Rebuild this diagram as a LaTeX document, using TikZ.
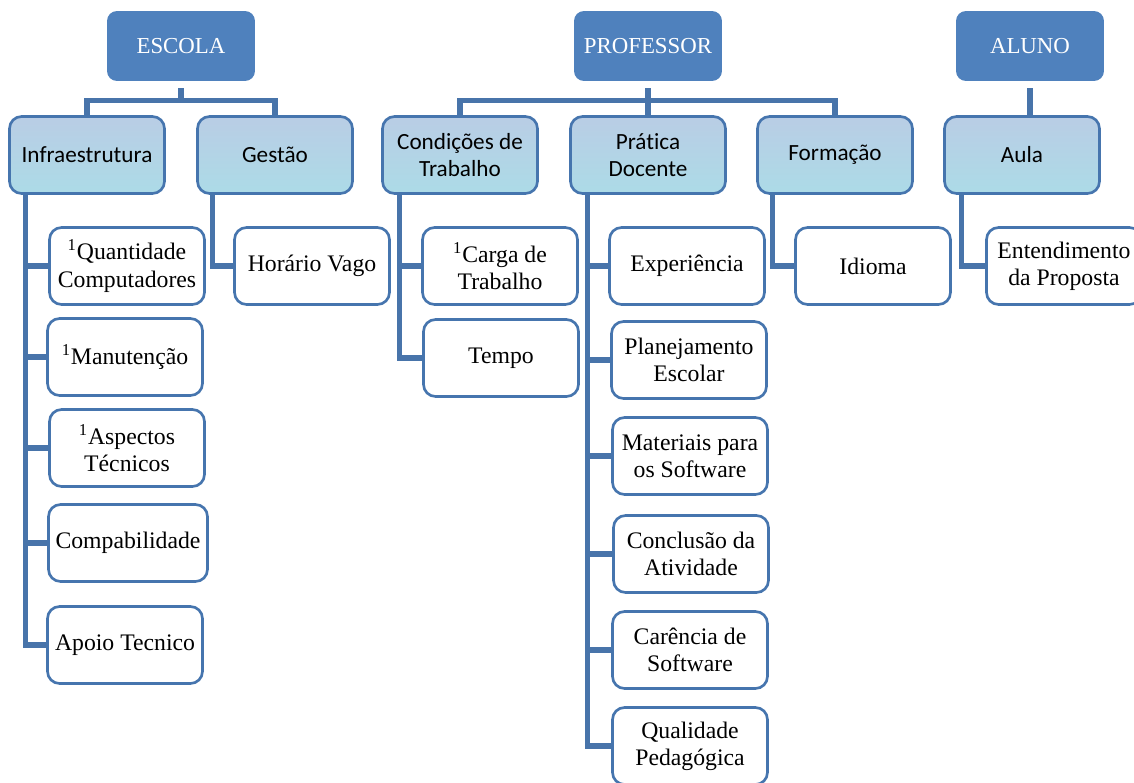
\documentclass[tikz,border=0pt]{standalone}
\usepackage{fontspec}
\setmainfont{Liberation Serif}
\newfontfamily\catfont[Ligatures=NoCommon]{Carlito}
\definecolor{topblue}{RGB}{79,129,189}
\definecolor{linkblue}{RGB}{72,116,170}
\definecolor{edgeblue}{RGB}{70,117,174}
\definecolor{cattop}{RGB}{185,205,229}
\definecolor{catbot}{RGB}{172,219,231}
\tikzset{
  root/.style={fill=topblue, rounded corners=0.2cm, minimum width=2.96cm,
    minimum height=1.4cm, text=white, font=\fontsize{13}{15}\selectfont},
  cat/.style={draw=edgeblue, line width=1.5pt, rounded corners=0.24cm,
    top color=cattop, bottom color=catbot, minimum width=3.1cm,
    minimum height=1.54cm, align=center, inner sep=1pt,
    font=\catfont\fontsize{13.2}{15.5}\selectfont},
  leaf/.style={draw=edgeblue, line width=1.5pt, fill=white,
    rounded corners=0.24cm, minimum width=3.1cm, minimum height=1.54cm,
    align=center, inner sep=1pt, font=\fontsize{13.5}{15.5}\selectfont},
  link/.style={draw=linkblue, line width=3pt},
}
\begin{document}
\begin{tikzpicture}[x=0.02cm,y=-0.02cm]
  \useasboundingbox (0,0) rectangle (1134,782);
  % top level
  \node[root] (escola) at (181,46) {ESCOLA};
  \node[root] (professor) at (648,46) {PROFESSOR};
  \node[root] (aluno) at (1030,46) {ALUNO};
  % categories
  \node[cat] (infra) at (87,155) {Infraestrutura};
  \node[cat] (gestao) at (275,155) {Gestão};
  \node[cat] (condicoes) at (460,155) {Condições de\\Trabalho};
  \node[cat] (pratica) at (648,155) {Prática\\Docente};
  \node[cat] (formacao) at (835,155) {Formação};
  \node[cat] (aula) at (1022,155) {Aula};
  % leaves
  \node[leaf] (qtd) at (127,266) {\textsuperscript{1}Quantidade\\Computadores};
  \node[leaf] (manut) at (125,357) {\textsuperscript{1}Manutenção};
  \node[leaf] (aspectos) at (127,448) {\textsuperscript{1}Aspectos\\Técnicos};
  \node[leaf, minimum width=3.18cm] (compab) at (128,543) {Compabilidade};
  \node[leaf] (apoio) at (125,645) {Apoio Tecnico};
  \node[leaf] (horario) at (312,266) {Horário Vago};
  \node[leaf] (carga) at (500,266) {\textsuperscript{1}Carga de\\Trabalho};
  \node[leaf] (tempo) at (501,358) {Tempo};
  \node[leaf] (experiencia) at (687,266) {Experiência};
  \node[leaf] (planej) at (689,360) {Planejamento\\Escolar};
  \node[leaf] (materiais) at (690,456) {Materiais para\\os Software};
  \node[leaf] (conclusao) at (691,554) {Conclusão da\\Atividade};
  \node[leaf] (carencia) at (690,650) {Carência de\\Software};
  \node[leaf] (qualidade) at (690,746) {Qualidade\\Pedagógica};
  \node[leaf] (idioma) at (873,266) {Idioma};
  \node[leaf] (entend) at (1064,266) {Entendimento\\da Proposta};
  % top links
  \draw[link] ([yshift=-0.14cm]escola.south) -- ++(0,12) -| (infra.north);
  \draw[link] ([yshift=-0.14cm]escola.south) -- ++(0,12) -| (gestao.north);
  \draw[link] ([yshift=-0.14cm]professor.south) -- ++(0,12) -| (condicoes.north);
  \draw[link] ([yshift=-0.14cm]professor.south) -- (pratica.north);
  \draw[link] ([yshift=-0.14cm]professor.south) -- ++(0,12) -| (formacao.north);
  \draw[link] ([yshift=-0.14cm]aluno.south) -- (aluno.south |- aula.north);
  % trunks
  \foreach \leafname in {qtd,manut,aspectos,compab,apoio}
    \draw[link] ([xshift=0.34cm]infra.south west) |- (\leafname.west);
  \draw[link] ([xshift=0.32cm]gestao.south west) |- (horario.west);
  \foreach \leafname in {carga,tempo}
    \draw[link] ([xshift=0.36cm]condicoes.south west) |- (\leafname.west);
  \foreach \leafname in {experiencia,planej,materiais,conclusao,carencia,qualidade}
    \draw[link] ([xshift=0.36cm]pratica.south west) |- (\leafname.west);
  \draw[link] ([xshift=0.32cm]formacao.south west) |- (idioma.west);
  \draw[link] ([xshift=0.36cm]aula.south west) |- (entend.west);
\end{tikzpicture}
\end{document}
